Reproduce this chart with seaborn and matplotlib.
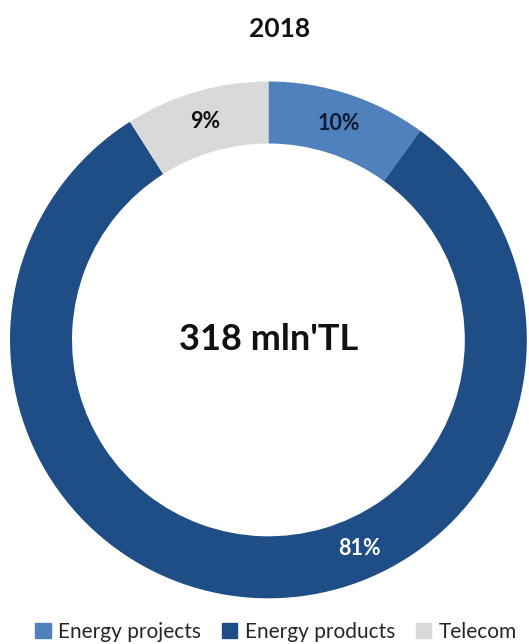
import matplotlib
matplotlib.use("Agg")
import matplotlib.pyplot as plt
import numpy as np
import seaborn as sns

categories = ["Energy projects", "Energy products", "Telecom"]
shares = [10, 81, 9]
colors = ["#4F81BD", "#1F4E86", "#D9D9D9"]
label_colors = ["#0F1A33", "#FFFFFF", "#111111"]
# label direction, degrees clockwise from 12 o'clock (None = slice middle)
label_angles = [None, 156.5, None]
title = "2018"
center_text = "318 mln'TL"

sns.set_theme(style="white")
plt.rcParams["font.family"] = ["Lato", "DejaVu Sans"]

fig = plt.figure(figsize=(5.29, 6.44), dpi=100)
ax = fig.add_axes([0.0189, 0.0707, 0.977, 0.803])

ring_width = 0.24
wedges, _ = ax.pie(
    shares,
    colors=colors,
    startangle=90,
    counterclock=False,
    radius=1.0,
    wedgeprops=dict(width=ring_width, edgecolor="none"),
)

r_label = 1.0 - ring_width / 2
for w, val, tc, la in zip(wedges, shares, label_colors, label_angles):
    if la is None:
        ang = np.deg2rad((w.theta1 + w.theta2) / 2)
    else:
        ang = np.deg2rad(90 - la)
    ax.text(r_label * np.cos(ang), r_label * np.sin(ang), f"{val}%",
            ha="center", va="center", fontsize=15.5, fontweight="bold", color=tc)

ax.text(0, 0.0, center_text, ha="center", va="center",
        fontsize=26, fontweight="bold", color="#111111")
ax.set_xlim(-1, 1)
ax.set_ylim(-1, 1)
ax.set_aspect("equal")
ax.axis("off")

fig.text(0.528, 0.955, title, ha="center", va="center",
         fontsize=19, fontweight="bold", color="#111111")

handles = [plt.Rectangle((0, 0), 1, 1, color=c) for c in colors]
fig.legend(handles, categories, loc="center left", bbox_to_anchor=(0.066, 0.019),
           ncol=3, frameon=False, fontsize=15, handlelength=0.75, handleheight=0.75,
           handletextpad=0.35, columnspacing=1.0, borderaxespad=0, borderpad=0)

fig.savefig("out.png", dpi=100, facecolor="white")
